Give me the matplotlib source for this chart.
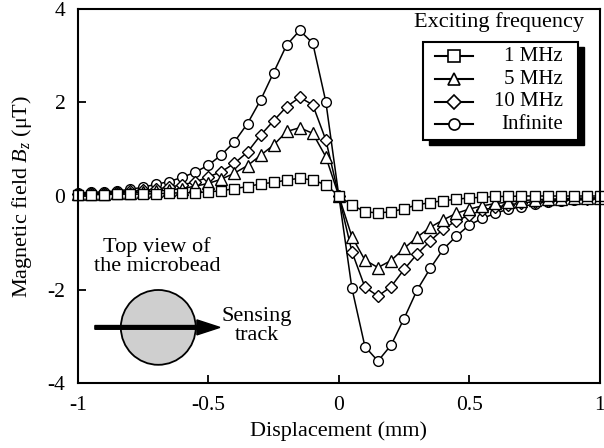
import numpy as np
import matplotlib
matplotlib.use('Agg')
import matplotlib.pyplot as plt
from matplotlib.patches import Ellipse, Rectangle, FancyArrow

plt.rcParams['font.family'] = 'Liberation Serif'
plt.rcParams['mathtext.fontset'] = 'custom'
plt.rcParams['mathtext.rm'] = 'Liberation Serif'
plt.rcParams['mathtext.it'] = 'Liberation Serif:italic'

# displacement positions (mm), one point every 0.05 mm
displacement = np.linspace(-1, 1, 41)

# Bz in uT
bz_1mhz = [0.03, 0.03, 0.03, 0.04, 0.04, 0.04, 0.05, 0.06, 0.07, 0.07,
           0.09, 0.11, 0.16, 0.20, 0.26, 0.29, 0.34, 0.38, 0.34, 0.24,
           0.00, -0.19, -0.34, -0.36, -0.34, -0.27, -0.19, -0.14, -0.10, -0.07,
           -0.04, -0.03, -0.01, -0.01, 0.00, 0.00, 0.00, 0.00, 0.00, 0.00, 0.00]
bz_5mhz = [0.04, 0.04, 0.05, 0.06, 0.07, 0.08, 0.10, 0.13, 0.16, 0.21,
           0.27, 0.36, 0.49, 0.65, 0.87, 1.09, 1.38, 1.46, 1.34, 0.84,
           0.00, -0.87, -1.37, -1.53, -1.38, -1.12, -0.88, -0.67, -0.51, -0.37,
           -0.28, -0.21, -0.16, -0.13, -0.10, -0.08, -0.07, -0.06, -0.05, -0.04, -0.04]
bz_10mhz = [0.05, 0.06, 0.07, 0.08, 0.10, 0.12, 0.15, 0.19, 0.24, 0.30,
            0.41, 0.52, 0.70, 0.94, 1.30, 1.61, 1.91, 2.11, 1.95, 1.20,
            0.00, -1.19, -1.95, -2.14, -1.94, -1.57, -1.24, -0.96, -0.71, -0.53,
            -0.41, -0.30, -0.24, -0.19, -0.15, -0.12, -0.10, -0.08, -0.07, -0.06, -0.05]
bz_inf = [0.07, 0.08, 0.09, 0.11, 0.14, 0.19, 0.25, 0.31, 0.40, 0.51,
          0.66, 0.88, 1.16, 1.55, 2.05, 2.64, 3.23, 3.54, 3.27, 2.02,
          0.00, -1.97, -3.22, -3.53, -3.19, -2.62, -2.01, -1.55, -1.14, -0.86,
          -0.62, -0.48, -0.37, -0.28, -0.23, -0.17, -0.12, -0.10, -0.08, -0.07, -0.06]

labels = ['1 MHz', '5 MHz', '10 MHz', 'Infinite']
series = [bz_1mhz, bz_5mhz, bz_10mhz, bz_inf]
markers = ['s', '^', 'D', 'o']
msizes = [7, 8, 6, 7]

xticks = [-1, -0.5, 0, 0.5, 1]
xticklabels = ['-1', '-0.5', '0', '0.5', '1']
yticks = [-4, -2, 0, 2, 4]
yticklabels = ['-4', '-2', '0', '2', '4']

fig = plt.figure(figsize=(6.04, 4.48), dpi=100)
ax = fig.add_axes([0.129, 0.145, 0.864, 0.835])

# draw Infinite first so the squares end up on top
for vals, mk, ms in reversed(list(zip(series, markers, msizes))):
    ax.plot(displacement, vals, color='black', lw=1.1, marker=mk, ms=ms,
            mfc='white', mec='black', mew=1.0, clip_on=False)

ax.set_xlim(-1, 1)
ax.set_ylim(-4, 4)
ax.set_xticks(xticks)
ax.set_xticklabels(xticklabels)
ax.set_yticks(yticks)
ax.set_yticklabels(yticklabels)
ax.tick_params(direction='in', length=6, width=1.3, labelsize=15.5, pad=9)
for s in ax.spines.values():
    s.set_linewidth(1.5)

ax.set_xlabel('Displacement (mm)', fontsize=16, labelpad=5)
ax.set_ylabel(r'Magnetic field $B_z$ ($\mathrm{\mu}$T)', fontsize=16)
ax.yaxis.set_label_coords(-0.085, 0.5)

# legend, drawn by hand so the labels can sit right-aligned
tr = ax.transAxes
ax.text(0.807, 0.965, 'Exciting frequency', transform=tr, fontsize=16,
        ha='center', va='center')
ax.add_patch(Rectangle((0.672, 0.637), 0.297, 0.262, transform=tr,
                       facecolor='black', edgecolor='black', zorder=5))
ax.add_patch(Rectangle((0.661, 0.650), 0.297, 0.262, transform=tr,
                       facecolor='white', edgecolor='black', lw=1.5, zorder=6))
row_y = [0.873, 0.812, 0.752, 0.692]
for lab, mk, ms, yy in zip(labels, markers, msizes, row_y):
    ax.plot([0.684, 0.757], [yy, yy], transform=tr, color='black', lw=1.5, zorder=7)
    ax.plot([0.720], [yy], transform=tr, marker=mk, ms=ms + 1, mfc='white',
            mec='black', mew=1.2, zorder=8)
    ax.text(0.929, yy, lab, transform=tr, fontsize=15, ha='right',
            va='center', zorder=8)

# inset sketch of the bead and the sensing track
ax.text(-0.697, -1.29, 'Top view of\nthe microbead', fontsize=16,
        ha='center', va='center', linespacing=1.0)
ax.add_patch(Ellipse((-0.692, -2.81), 0.287, 1.60, facecolor='#cfcfcf',
                     edgecolor='black', lw=1.3))
ax.add_patch(FancyArrow(-0.935, -2.81, 0.479, 0, width=0.08,
                        head_width=0.32, head_length=0.088,
                        length_includes_head=True, color='black'))
ax.text(-0.315, -2.78, 'Sensing\ntrack', fontsize=16, ha='center',
        va='center', linespacing=1.0)

fig.savefig('out.png', dpi=100)
